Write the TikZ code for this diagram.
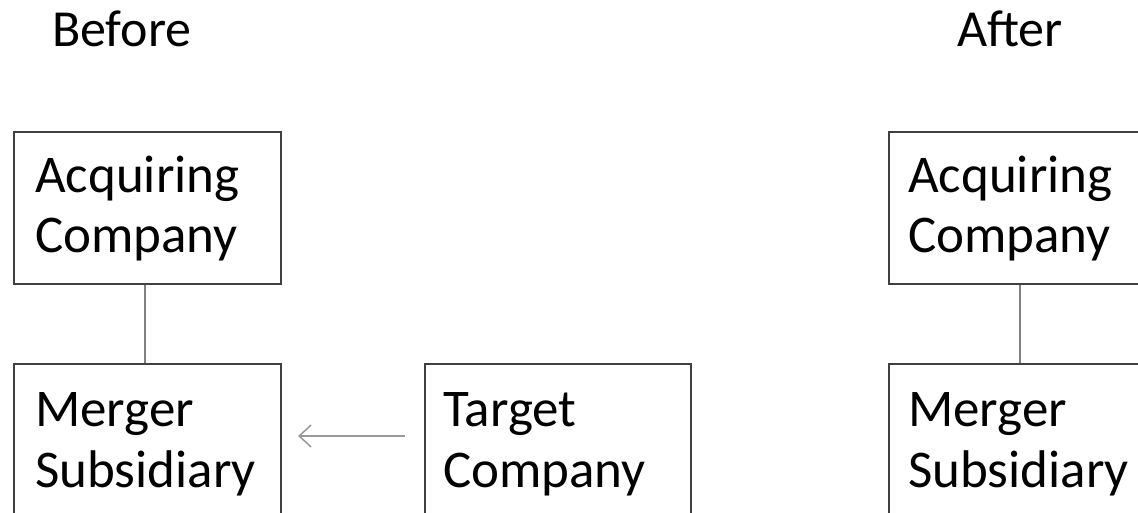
\documentclass[tikz,border=0pt]{standalone}
\usepackage{fontspec}
\setmainfont{Carlito}
\usetikzlibrary{arrows.meta}
\definecolor{boxline}{HTML}{404040}
\definecolor{linkgray}{HTML}{808080}
\definecolor{arrowgray}{HTML}{999999}
\tikzset{
  entitybox/.style={draw=boxline, line width=2pt, minimum width=267pt, minimum height=200pt, anchor=north west, inner sep=0pt},
  lbl/.style={font=\fontsize{53}{61}\selectfont, align=left, anchor=base west, inner sep=0pt, text=black},
  title/.style={font=\fontsize{52}{60}\selectfont, anchor=base west, inner sep=0pt, text=black},
  link/.style={draw=linkgray, line width=1.5pt},
  moveto/.style={draw=arrowgray, line width=1.5pt, -{Straight Barb[length=12pt,width=22pt,line width=1.5pt]}}
}
\begin{document}
\begin{tikzpicture}[x=1pt,y=1pt]
\useasboundingbox (0,0) rectangle (1138,-513);
\clip (0,0) rectangle (1138,-513);
\fill[white] (0,0) rectangle (1138,-513);
% titles
\node[title] (before) at (52,-47) {Before};
\node[title] (after) at (957,-47) {After};
% boxes
\node[entitybox, minimum height=152pt] (acqL) at (13,-131) {};
\node[entitybox] (mergL) at (13,-363) {};
\node[entitybox, minimum width=266pt] (target) at (424,-363) {};
\node[entitybox, minimum height=152pt] (acqR) at (888,-131) {};
\node[entitybox] (mergR) at (888,-363) {};
% texts (anchor at baseline of last line)
\node[lbl] (tacqL) at (35,-253) {Acquiring\\Company};
\node[lbl] (tmergL) at (35,-487) {Merger\\Subsidiary};
\node[lbl] (ttarget) at (443,-487) {Target\\Company};
\node[lbl] (tacqR) at (908,-253) {Acquiring\\Company};
\node[lbl] (tmergR) at (908,-487) {Merger\\Subsidiary};
% connectors
\draw[link] (acqL.south -| 145,0) -- (mergL.north -| 145,0);
\draw[link] (acqR.south -| 1020,0) -- (mergR.north -| 1020,0);
\coordinate (arrS) at (405,-436);
\coordinate (arrE) at (298,-436);
\draw[moveto] (arrS) -- (arrE);
\end{tikzpicture}
\end{document}
